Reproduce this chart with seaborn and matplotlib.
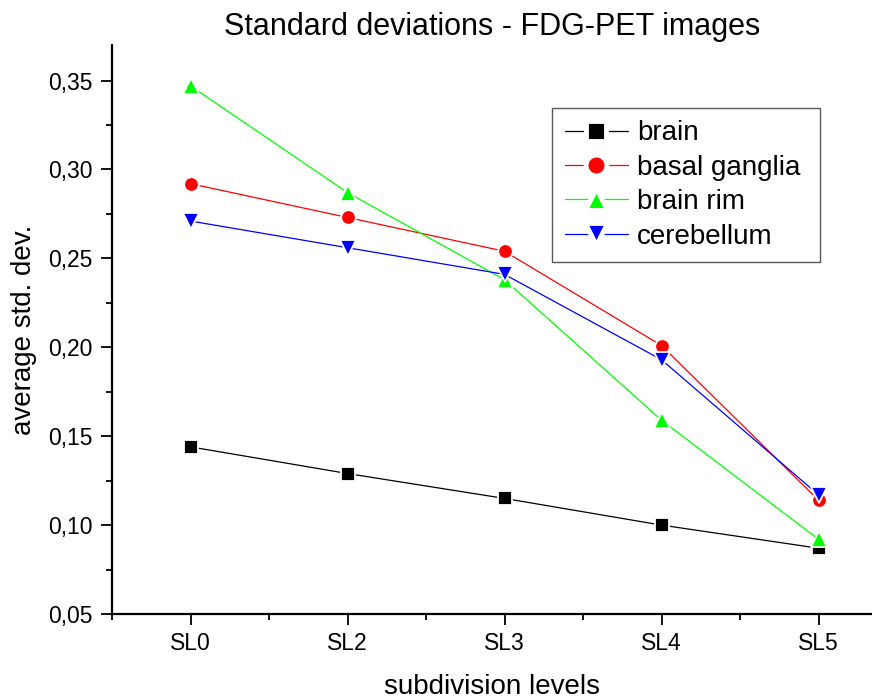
import matplotlib
matplotlib.use("Agg")
import matplotlib.pyplot as plt
from matplotlib.ticker import MultipleLocator, FixedLocator, FuncFormatter
from matplotlib.lines import Line2D
import seaborn as sns
import pandas as pd

# subdivision levels on the x axis
levels = ["SL0", "SL2", "SL3", "SL4", "SL5"]

# average standard deviation per region
brain = [0.144, 0.129, 0.115, 0.100, 0.087]
basal_ganglia = [0.292, 0.273, 0.254, 0.201, 0.114]
brain_rim = [0.347, 0.287, 0.238, 0.159, 0.092]
cerebellum = [0.271, 0.256, 0.241, 0.193, 0.117]

series_names = ["brain", "basal ganglia", "brain rim", "cerebellum"]
series_values = [brain, basal_ganglia, brain_rim, cerebellum]

rows = []
for name, vals in zip(series_names, series_values):
    for i, (lvl, v) in enumerate(zip(levels, vals)):
        rows.append({"pos": i, "level": lvl, "region": name, "std": v})
df = pd.DataFrame(rows)

sns.set_theme(style="white")
plt.rcParams["font.family"] = ["Liberation Sans", "DejaVu Sans"]
plt.rcParams["text.color"] = "black"

colors = {"brain": "#000000", "basal ganglia": "#ff0000",
          "brain rim": "#00ff00", "cerebellum": "#0000ff"}
markers = {"brain": "s", "basal ganglia": "o",
           "brain rim": "^", "cerebellum": "v"}
msizes = {"brain": 9.5, "basal ganglia": 10.5, "brain rim": 11.5, "cerebellum": 11.5}

fig = plt.figure(figsize=(8.72, 6.99), dpi=100)
W, H = 872, 699
ax = fig.add_axes([112 / W, (H - 614) / H, (W - 112) / W, (614 - 45) / H])

sns.lineplot(data=df, x="pos", y="std", hue="region", style="region",
             palette=colors, markers=markers, dashes=False,
             hue_order=series_names, style_order=series_names,
             linewidth=0.9, ax=ax, legend=False)

# white rim around each marker so the connecting lines stop short of it
for line, name in zip(ax.get_lines(), series_names):
    line.set_markersize(msizes[name])
    line.set_markeredgecolor("white")
    line.set_markeredgewidth(1.3)

ax.set_xlim(-0.5, -0.5 + (W - 112) / 157.0)
ax.set_ylim(0.05, 0.37)

ax.xaxis.set_major_locator(FixedLocator(range(len(levels))))
ax.set_xticklabels(levels)
ax.xaxis.set_minor_locator(FixedLocator([-0.5, 0.5, 1.5, 2.5, 3.5]))
ax.yaxis.set_major_locator(FixedLocator([0.05, 0.10, 0.15, 0.20, 0.25, 0.30, 0.35]))
ax.yaxis.set_minor_locator(MultipleLocator(0.025))
ax.yaxis.set_major_formatter(FuncFormatter(lambda v, p: f"{v:.2f}".replace(".", ",")))

ax.tick_params(axis="both", which="major", direction="out", length=8, width=1.3,
               labelsize=16.5, color="black", labelcolor="black", pad=6)
ax.tick_params(axis="both", which="minor", direction="out", length=4.5, width=1.3,
               color="black")
ax.tick_params(axis="x", which="major", pad=5)
ax.tick_params(bottom=True, left=True, which="both")

for side in ["top", "right"]:
    ax.spines[side].set_visible(False)
for side in ["left", "bottom"]:
    ax.spines[side].set_color("black")
    ax.spines[side].set_linewidth(1.6)

ax.set_xlabel("subdivision levels", fontsize=20, labelpad=14, color="black")
ax.set_ylabel("average std. dev.", fontsize=20, labelpad=8, color="black")
ax.set_title("Standard deviations - FDG-PET images", fontsize=22, pad=7, color="black")

# legend keys: line broken around the marker
handles = []
for name in series_names:
    handles.append(Line2D([], [], color=colors[name], lw=0.9, marker=markers[name],
                          markersize=msizes[name] + 4.5, markerfacecolor=colors[name],
                          markeredgecolor="white", markeredgewidth=3.5))
leg_box = (552 - 112) / (W - 112), (614 - 253) / (614 - 45), \
          (820 - 552) / (W - 112), (253 - 108) / (614 - 45)
leg = ax.legend(handles, series_names, loc="upper left",
                bbox_to_anchor=leg_box, mode="expand", fontsize=20,
                frameon=True, fancybox=False, edgecolor="#303030",
                handlelength=2.3, handletextpad=0.3, borderpad=0.45,
                labelspacing=0.3, borderaxespad=0)
leg.get_frame().set_linewidth(1.0)
for t in leg.get_texts():
    t.set_color("black")

fig.savefig("out.png", dpi=100, facecolor="white")
